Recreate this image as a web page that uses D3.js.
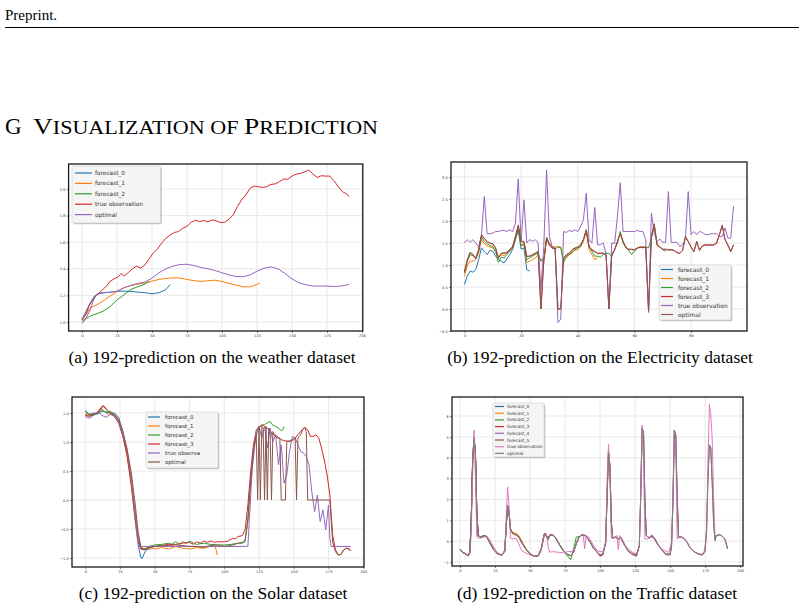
<!DOCTYPE html>
<html>
<head>
<meta charset="utf-8">
<script src="https://cdn.jsdelivr.net/npm/d3@7"></script>
<style>
  body { margin: 0; background: #fff; }
  svg { display: block; }
  .serif { font-family: "Liberation Serif", "Times New Roman", serif; fill: #000; }
</style>
</head>
<body>
<script>
// ---------- page text ----------
const captions = [
  "(a) 192-prediction on the weather dataset",
  "(b) 192-prediction on the Electricity dataset",
  "(c) 192-prediction on the Solar dataset",
  "(d) 192-prediction on the Traffic dataset"
];

// ---------- (a) weather ----------
const weatherTrueX = [0,3,5,8,10,13,15,18,20,23,26,28,30,33,36,39,42,45,48,51,54,57,60,63,66,69,72,75,78,81,84,87,90,93,96,99,102,105,108,111,114,117,120,123,126,129,132,135,138,141,144,147,150,153,156,159,162,165,168,171,174,177,180,183,186,189,191];
const weatherTrueY = [1.015,1.06,1.12,1.17,1.20,1.225,1.245,1.275,1.305,1.325,1.34,1.365,1.345,1.37,1.40,1.42,1.405,1.43,1.475,1.52,1.55,1.595,1.63,1.655,1.673,1.68,1.705,1.72,1.75,1.765,1.755,1.763,1.753,1.768,1.76,1.748,1.75,1.773,1.805,1.868,1.918,1.955,2.005,2.022,2.017,2.012,2.018,2.035,2.038,2.055,2.075,2.073,2.097,2.112,2.117,2.13,2.142,2.112,2.087,2.1,2.097,2.097,2.062,2.017,1.98,1.963,1.943];
const weatherOptX = [0,3,6,8,10,13,16,20,25,30,35,40,45,50,55,60,65,70,75,80,85,90,95,100,105,110,115,120,125,130,135,140,145,150,155,160,165,170,175,180,185,191];
const weatherOptY = [1.007,1.03,1.095,1.157,1.20,1.215,1.22,1.222,1.232,1.257,1.275,1.29,1.30,1.33,1.37,1.40,1.42,1.432,1.434,1.424,1.41,1.40,1.387,1.37,1.354,1.342,1.34,1.354,1.382,1.404,1.414,1.40,1.364,1.324,1.294,1.28,1.27,1.27,1.27,1.267,1.27,1.282];
const weatherF0X = [0,3,6,9,12,15,20,25,30,35,40,45,50,55,60,63];
const weatherF0Y = [1.02,1.082,1.145,1.195,1.215,1.22,1.224,1.23,1.232,1.23,1.224,1.22,1.212,1.22,1.244,1.282];
const weatherF1X = [0,3,6,10,15,20,25,30,35,40,45,50,55,60,65,70,75,80,85,90,95,100,105,110,115,120,125,127];
const weatherF1Y = [1.02,1.057,1.107,1.125,1.157,1.195,1.227,1.257,1.275,1.284,1.294,1.307,1.32,1.327,1.332,1.33,1.32,1.31,1.305,1.31,1.314,1.304,1.29,1.277,1.264,1.264,1.282,1.294];
const weatherF2X = [0,3,6,10,15,20,25,30,35,40,45,48];
const weatherF2Y = [0.99,1.025,1.045,1.06,1.08,1.115,1.165,1.205,1.245,1.265,1.285,1.305];

// ---------- (b) electricity (one value per step) ----------
const elecTrue = [1.50,1.575,1.515,1.575,1.50,1.41,1.65,2.555,1.71,1.71,
  1.725,1.76,1.76,1.785,1.785,1.76,1.80,1.76,1.95,2.955,
  1.537,2.48,1.50,1.575,1.537,1.575,1.50,0.445,1.42,3.157,
  1.65,1.41,1.387,-0.31,-0.23,1.76,1.74,1.785,1.76,1.80,
  1.76,1.876,2.03,2.63,1.575,1.50,2.306,1.46,1.46,1.50,
  1.25,0.0,1.50,1.485,2.10,2.87,1.76,1.76,1.76,1.76,
  1.76,1.785,1.76,1.76,1.575,-0.08,2.18,1.725,1.537,1.59,
  1.515,1.515,2.668,1.515,1.515,1.515,1.42,1.46,1.575,2.668,
  1.69,1.76,1.69,1.76,1.74,1.69,1.69,1.71,1.71,1.71,
  1.65,1.65,1.84,1.61,1.61,2.34];
const elecOpt = [0.86,1.12,1.29,1.235,1.14,1.35,1.69,1.61,1.537,1.50,
  1.485,1.387,1.16,1.27,1.27,1.29,1.35,1.42,1.65,1.91,
  1.537,1.537,1.20,1.20,1.235,1.27,1.31,0.0,1.085,1.61,
  1.46,1.387,1.387,0.0,0.0,1.16,1.235,1.27,1.35,1.387,
  1.41,1.46,1.575,1.80,1.42,1.35,1.31,1.27,1.27,1.27,
  1.235,0.0,1.235,1.35,1.537,1.725,1.537,1.41,1.36,1.36,
  1.35,1.387,1.41,1.41,1.41,-0.045,1.65,1.937,1.46,1.41,
  1.36,1.36,1.35,1.35,1.334,1.29,1.27,1.334,1.65,1.537,
  1.41,1.31,1.537,1.334,1.44,1.46,1.46,1.46,1.46,1.50,
  1.69,1.91,1.575,1.46,1.31,1.46];
const elecF0 = [0.56,0.746,0.86,0.836,0.897,1.12,1.387,1.31,1.235,1.334,
  1.31,1.20,1.12,1.085,1.047,1.14,1.235,1.35,1.575,1.80,
  1.36,1.387,0.897,0.86];
const elecF1 = [0.746,0.987,1.085,1.085,1.12,1.27,1.575,1.485,1.44,1.41,
  1.387,1.31,1.18,1.235,1.21,1.27,1.35,1.41,1.61,1.84,
  1.46,1.485,1.06,1.085,1.12,1.16,1.235,1.12,1.12,1.575,
  1.50,1.41,1.41,1.42,1.41,1.12,1.16,1.235,1.27,1.334,
  1.35,1.41,1.537,1.76,1.35,1.235,1.12,1.16];
const elecF2 = [0.82,1.085,1.235,1.21,1.16,1.31,1.635,1.537,1.485,1.44,
  1.42,1.31,1.06,1.18,1.16,1.235,1.31,1.387,1.61,1.80,
  1.44,1.46,1.12,1.16,1.20,1.235,1.27,1.085,1.12,1.635,
  1.46,1.387,1.36,1.41,1.387,1.047,1.20,1.235,1.29,1.35,
  1.387,1.42,1.575,1.80,1.41,1.31,1.20,1.20,1.18,1.235,
  1.27,1.26,1.20,1.35,1.485,1.76,1.50,1.387,1.334,1.235,
  1.31,1.387,1.41,1.387,1.41,1.387,1.61,1.876,1.46,1.41,
  1.35,1.31];
const elecF3 = [0.84,1.10,1.28,1.24,1.15,1.34,1.67,1.60,1.53,1.49,
  1.48,1.38,1.15,1.26,1.27,1.28,1.34,1.41,1.64,1.89,
  1.53,1.53,1.19,1.20,1.23,1.26,1.30,0.0,1.08,1.60,
  1.45,1.38,1.38,0.0,0.0,1.15,1.23,1.26,1.34,1.38,
  1.40,1.45,1.57,1.78,1.41,1.34,1.30,1.26,1.26,1.27,
  1.22,0.0,1.23,1.34,1.53,1.71,1.53,1.40,1.35,1.35,
  1.34,1.38,1.40,1.40,1.40,-0.045,1.64,1.92,1.45,1.40,
  1.35,1.35,1.34,1.34,1.33,1.28,1.26,1.33,1.64,1.53,
  1.40,1.30,1.53,1.33,1.43,1.45,1.45,1.45,1.45,1.49,
  1.68,1.89,1.57,1.45,1.30,1.45];

// ---------- (c) solar ----------
const solarTrueX = [0,3,6,9,12,15,18,21,24,27,30,33,36,38,39,116,117,118,120,122,123,125,127,129,131,133,135,137,139,141,143,145,147,149,151,153,155,157,159,161,163,165,167,169,171,173,175,176,177,191];
const solarTrueY = [1.44,1.41,1.46,1.53,1.46,1.425,1.48,1.44,1.356,1.125,0.866,0.377,-0.26,-0.66,-0.80,-0.80,-0.80,-0.37,0.49,0.953,1.21,1.27,1.068,1.27,0.895,1.24,1.01,1.125,0.607,0.953,0.29,0.434,0.837,1.097,1.068,0.953,0.837,0.81,0.75,0.607,0.144,-0.20,0.086,-0.37,-0.17,-0.516,-0.086,-0.66,-0.80,-0.80];
const solarOptX = [0,3,6,9,12,13,15,18,21,24,27,30,33,36,38,40,42,45,50,55,60,65,70,75,80,85,90,95,100,105,110,113,115,117,119,121,123,124,125,126,127,128,129,130,131,132,133,134,135,136,138,140,141,144,145,147,149,151,152,153,155,157,158,159,160,176,177,178,180,182,184,186,188,190,191];
const solarOptY = [1.47,1.46,1.47,1.50,1.586,1.615,1.56,1.50,1.47,1.385,1.183,0.895,0.49,-0.086,-0.545,-0.80,-0.86,-0.83,-0.80,-0.785,-0.785,-0.775,-0.785,-0.80,-0.80,-0.82,-0.785,-0.775,-0.80,-0.785,-0.745,-0.73,-0.69,-0.37,0.32,0.837,1.15,0,1.27,0,1.27,1.24,0,1.27,0,1.24,1.18,0,1.18,1.125,1.068,1.068,0,0,1.01,1.02,1.04,1.068,0,1.068,1.125,1.24,1.25,1.18,0,0,-0.37,-0.72,-0.89,-0.95,-0.94,-0.86,-0.83,-0.86,-0.875];
const solarF0X = [0,3,6,9,12,15,18,21,24,27,30,33,36,38,40,41,43,45,47];
const solarF0Y = [1.53,1.48,1.50,1.48,1.53,1.52,1.50,1.50,1.425,1.183,0.837,0.32,-0.37,-0.775,-0.995,-1.005,-0.89,-0.845,-0.845];
const solarF1X = [0,3,6,9,12,15,18,21,24,27,30,33,36,38,40,43,46,50,55,60,65,70,75,80,85,90,93,94,95];
const solarF1Y = [1.50,1.47,1.47,1.50,1.56,1.50,1.47,1.48,1.385,1.125,0.78,0.26,-0.37,-0.72,-0.845,-0.833,-0.82,-0.845,-0.82,-0.845,-0.80,-0.833,-0.845,-0.82,-0.833,-0.80,-0.785,-0.845,-0.95];
const solarF2X = [0,3,6,9,12,15,18,21,24,27,30,33,36,38,40,43,46,50,55,60,62,65,68,70,73,75,78,80,85,90,95,100,105,110,113,115,117,119,121,123,125,127,129,131,133,135,137,139,141,142,143];
const solarF2Y = [1.54,1.47,1.46,1.50,1.56,1.50,1.53,1.47,1.356,1.154,0.837,0.377,-0.257,-0.66,-0.833,-0.845,-0.80,-0.775,-0.765,-0.745,-0.765,-0.72,-0.765,-0.72,-0.745,-0.706,-0.745,-0.765,-0.745,-0.765,-0.775,-0.775,-0.765,-0.745,-0.745,-0.72,-0.315,0.377,0.837,1.125,1.24,1.287,1.30,1.33,1.356,1.287,1.27,1.24,1.195,1.21,1.264];
const solarF3X = [0,3,6,9,12,13,15,18,21,24,27,30,33,36,38,40,43,46,50,55,60,65,70,75,78,80,83,85,88,90,93,95,100,103,106,108,110,113,115,117,119,121,123,125,127,129,131,133,135,138,141,144,147,150,153,156,158,160,162,164,166,168,170,172,174,176,177,178,180,182,184,186,188,190,191];
const solarF3Y = [1.46,1.44,1.48,1.52,1.615,1.63,1.575,1.50,1.44,1.327,1.097,0.78,0.29,-0.317,-0.66,-0.845,-0.86,-0.82,-0.80,-0.785,-0.765,-0.765,-0.745,-0.73,-0.765,-0.72,-0.745,-0.706,-0.73,-0.706,-0.73,-0.72,-0.72,-0.706,-0.66,-0.67,-0.63,-0.614,-0.516,-0.086,0.49,0.953,1.183,1.25,1.30,1.27,1.24,1.18,1.137,1.10,1.04,1.02,1.01,1.04,1.125,1.21,1.25,1.21,1.097,1.097,1.125,1.068,0.895,0.69,0.434,0.086,-0.26,-0.60,-0.86,-0.94,-0.94,-0.86,-0.83,-0.845,-0.87];

// ---------- (d) traffic ----------
const trafficX = [0,2,4,6,7,8,9,10,11,12,
  13,15,17,19,21,24,27,30,32,33,
  34,35,36,37,38,40,42,44,47,50,
  53,56,58,60,61,63,64,66,68,70,
  73,76,79,81,83,85,87,89,91,93,
  95,98,100,102,104,105,106,107,108,109,
  111,113,115,117,120,123,126,128,129,130,
  131,132,133,135,137,139,141,144,147,150,
  151,152,153,154,155,156,158,160,162,164,
  167,170,173,175,176,177,178,179,180,181,
  182,183,185,187,189,191];
const trafficOpt = [-0.40,-0.53,-0.61,-0.69,-0.53,0.915,3.8,4.96,4.28,1.40,
  0.25,0.19,0.27,0.22,-0.05,-0.40,-0.61,-0.66,-0.45,0.75,
  1.72,1.40,0.59,0.43,0.35,0.30,0.19,-0.05,-0.37,-0.61,
  -0.72,-0.69,-0.37,0.27,0.30,0.08,0.27,0.30,0.19,-0.05,
  -0.37,-0.61,-0.69,-0.53,-0.13,0.19,0.30,0.27,0.145,-0.05,
  -0.29,-0.53,-0.66,-0.61,-0.05,2.2,4.28,3.64,0.915,0.145,
  0.19,0.11,0.145,-0.13,-0.45,-0.61,-0.66,-0.21,2.2,5.41,
  5.25,1.88,0.27,0.145,0.24,0.11,-0.13,-0.40,-0.61,-0.61,
  -0.21,1.88,5.33,5.09,2.2,0.19,0.19,0.11,-0.05,-0.29,
  -0.50,-0.61,-0.66,-0.45,0.59,3.0,4.6,4.45,2.84,0.915,
  0.03,0.27,0.30,0.24,0.11,-0.37];
const trafficF0 = [-0.38,-0.52,-0.60,-0.68,-0.52,0.90,3.75,4.90,4.30,1.45,
  0.26,0.20,0.26,0.22,-0.04,-0.39,-0.60,-0.66,-0.46];
const trafficF1 = [-0.39,-0.53,-0.61,-0.69,-0.53,0.92,3.8,4.95,4.25,1.42,
  0.26,0.20,0.28,0.24,-0.03,-0.38,-0.60,-0.66,-0.45,0.74,
  1.70,1.42,0.62,0.48,0.42,0.38,0.28,0.02,-0.34,-0.60,
  -0.72,-0.69,-0.38,0.26,0.32,0.10];
const trafficF2 = [-0.41,-0.54,-0.62,-0.70,-0.54,0.90,3.78,4.93,4.26,1.40,
  0.25,0.19,0.27,0.22,-0.05,-0.41,-0.62,-0.67,-0.46,0.74,
  1.70,1.40,0.58,0.42,0.35,0.30,0.19,-0.05,-0.38,-0.62,
  -0.73,-0.70,-0.38,0.30,0.34,0.10,0.28,0.30,0.19,-0.06,
  -0.40,-0.65,-0.90,-0.40,0.20,0.22,0.28,0.26,0.14,-0.06,
  -0.30];
const trafficF3 = [-0.40,-0.53,-0.62,-0.70,-0.54,0.91,3.78,4.95,4.28,1.42,
  0.25,0.19,0.27,0.22,-0.05,-0.40,-0.62,-0.67,-0.46,0.76,
  1.72,1.40,0.60,0.44,0.36,0.31,0.20,-0.05,-0.38,-0.62,
  -0.73,-0.70,-0.36,0.36,0.38,0.12,0.30,0.32,0.20,-0.05,
  -0.38,-0.62,-0.70,-0.54,-0.14,0.20,0.31,0.28,0.15,-0.05,
  -0.30,-0.55,-0.72,-0.66,-0.06,2.2,4.25,3.64,0.92,0.15,
  0.20,0.12,0.15,-0.14,-0.47,-0.64,-0.72,-0.22];
const trafficF4 = [-0.40,-0.53,-0.61,-0.69,-0.53,0.91,3.8,4.96,4.28,1.40,
  0.25,0.19,0.27,0.22,-0.05,-0.40,-0.61,-0.66,-0.45,0.75,
  1.72,1.40,0.59,0.43,0.35,0.30,0.19,-0.05,-0.37,-0.61,
  -0.72,-0.69,-0.37,0.27,0.30,0.08,0.27,0.30,0.19,-0.05,
  -0.37,-0.61,-0.69,-0.53,-0.13,0.19,0.30,0.27,0.145,-0.05,
  -0.29,-0.53,-0.66,-0.61,-0.05,2.2,4.28,3.64,0.915,0.145,
  0.19,0.11,0.145,-0.13,-0.45,-0.61,-0.66,-0.21,2.2,5.40,
  5.22,1.88,0.27,0.18,0.30,0.14,-0.13,-0.43,-0.66,-0.66,
  -0.22,1.86,5.30,5.06,2.2,0.19,0.19,0.11];
const trafficF5 = [-0.41,-0.54,-0.62,-0.70,-0.54,0.90,3.78,4.94,4.27,1.41,
  0.26,0.20,0.27,0.22,-0.05,-0.41,-0.62,-0.67,-0.46,0.74,
  1.71,1.41,0.60,0.44,0.35,0.31,0.20,-0.05,-0.38,-0.62,
  -0.73,-0.70,-0.38,0.28,0.31,0.09,0.28,0.31,0.20,-0.05,
  -0.38,-0.62,-0.70,-0.54,-0.13,0.20,0.31,0.28,0.15,-0.05,
  -0.30,-0.54,-0.67,-0.62,-0.05,2.18,4.26,3.62,0.92,0.15,
  0.20,0.12,0.15,-0.13,-0.46,-0.62,-0.67,-0.22,2.18,5.39,
  5.23,1.86,0.28,0.15,0.25,0.12,-0.13,-0.41,-0.62,-0.62,
  -0.22,1.86,5.31,5.07,2.18,0.20,0.20,0.12,-0.05,-0.30,
  -0.51,-0.62,-0.67,-0.46,0.58,2.98,4.62,4.48,2.86,0.93,
  0.04,0.28,0.31,0.25,0.12,-0.38];
const trafficTrueX = [0,3,6,7,8,9,10,11,12,13,15,17,19,21,24,27,30,32,33,34,35,36,38,40,42,44,47,50,53,56,58,60,61,62,63,64,66,70,74,77,80,82,84,86,88,89,90,92,94,96,98,100,102,104,105,106,107,108,110,112,113,114,116,118,120,123,126,128,129,130,131,132,134,136,138,140,143,146,149,151,152,153,154,155,157,159,161,163,165,168,171,174,176,177,178,179,180,181,182,184,186,188,190,191];
const trafficTrueY = [-0.37,-0.58,-0.66,-0.61,0.27,3.0,5.33,3.16,0.19,0.145,0.145,0.19,0.24,0.11,-0.29,-0.56,-0.66,-0.53,1.24,2.60,1.72,0.145,0.11,0.145,-0.13,-0.45,-0.56,-0.66,-0.72,-0.69,-0.45,0.27,0.35,0.19,-0.29,-0.53,-0.50,-0.53,-0.56,-0.50,-0.50,-0.29,0.11,0.27,0.30,-0.37,0.27,0.19,-0.05,-0.29,-0.45,-0.50,-0.50,-0.05,3.0,4.64,3.16,0.145,0.145,0.27,-0.40,0.27,0.08,-0.21,-0.37,-0.53,-0.61,-0.29,2.2,5.57,3.8,0.11,0.11,0.19,0.145,-0.05,-0.34,-0.45,-0.53,-0.05,2.2,5.33,4.6,0.11,0.19,0.19,0.08,-0.13,-0.40,-0.53,-0.61,-0.61,0.27,3.8,6.56,6.05,4.93,2.2,0.27,0.27,0.30,0.19,-0.05,-0.37];

// tick values
const ticks200 = [0,25,50,75,100,125,150,175,200];
const ticksElecX = [0,20,40,60,80];
const ticksWeatherY = [1.0,1.2,1.4,1.6,1.8,2.0];
const ticksElecY = [-0.5,0.0,0.5,1.0,1.5,2.0,2.5,3.0];
const ticksSolarY = [-1.0,-0.5,0.0,0.5,1.0,1.5];
const ticksTrafficY = [-1,0,1,2,3,4,5,6];

const C = { blue: "#1f77b4", orange: "#ff7f0e", green: "#2ca02c", red: "#d62728",
            purple: "#9467bd", brown: "#8c564b", pink: "#e377c2", gray: "#7f7f7f" };

const idx = arr => arr.map((v, i) => i);

// ---------- page ----------
const svg = d3.select("body").append("svg").attr("width", 804).attr("height", 610);
svg.append("rect").attr("width", 804).attr("height", 610).attr("fill", "#fff");

svg.append("text").attr("class", "serif").attr("x", 5).attr("y", 20)
  .attr("font-size", 15).text("Preprint.");
svg.append("line").attr("x1", 5).attr("x2", 799).attr("y1", 27.5).attr("y2", 27.5)
  .attr("stroke", "#000").attr("stroke-width", 1);

svg.append("text").attr("class", "serif").attr("x", 5).attr("y", 134)
  .attr("font-size", 23).text("G");
const head = svg.append("text").attr("class", "serif").attr("x", 33).attr("y", 134)
  .attr("font-size", 23).attr("textLength", 345).attr("lengthAdjust", "spacingAndGlyphs");
head.append("tspan").text("V");
head.append("tspan").attr("font-size", 18.5).text("ISUALIZATION OF ");
head.append("tspan").text("P");
head.append("tspan").attr("font-size", 18.5).text("REDICTION");

const capPos = [[212, 363], [600, 363], [213, 599], [597, 599]];
svg.selectAll("text.cap").data(captions).join("text")
  .attr("class", "serif cap")
  .attr("x", (d, i) => capPos[i][0]).attr("y", (d, i) => capPos[i][1])
  .attr("text-anchor", "middle").attr("font-size", 17.5)
  .text(d => d);

// ---------- one subplot ----------
function drawPanel(p) {
  const [L, T, R, B] = p.box;
  const x = d3.scaleLinear().domain(p.xDomain).range([L, R]);
  const y = d3.scaleLinear().domain(p.yDomain).range([B, T]);
  const g = svg.append("g");

  svg.append("clipPath").attr("id", "clip-" + p.id).append("rect")
    .attr("x", L).attr("y", T).attr("width", R - L).attr("height", B - T);

  // grid
  g.append("g").selectAll("line").data(p.xTicks.filter(t => x(t) <= R)).join("line")
    .attr("x1", d => x(d)).attr("x2", d => x(d)).attr("y1", T).attr("y2", B)
    .attr("stroke", "#e3e3e3").attr("stroke-width", 0.8);
  g.append("g").selectAll("line").data(p.yTicks.filter(t => y(t) >= T && y(t) <= B)).join("line")
    .attr("x1", L).attr("x2", R).attr("y1", d => y(d)).attr("y2", d => y(d))
    .attr("stroke", "#e3e3e3").attr("stroke-width", 0.8);

  // series
  const line = d3.line().x(d => x(d[0])).y(d => y(d[1]));
  g.append("g").attr("clip-path", `url(#clip-${p.id})`)
    .selectAll("path").data(p.series).join("path")
    .attr("d", s => line(d3.zip(s.xs, s.ys)))
    .attr("fill", "none").attr("stroke", s => s.color)
    .attr("stroke-width", 1).attr("stroke-linejoin", "round");

  // axes
  const ax = g.append("g").attr("transform", `translate(0,${B})`)
    .call(d3.axisBottom(x).tickValues(p.xTicks).tickSize(2).tickPadding(1.2).tickFormat(d3.format("d")));
  const ay = g.append("g").attr("transform", `translate(${L},0)`)
    .call(d3.axisLeft(y).tickValues(p.yTicks).tickSize(2).tickPadding(1.2).tickFormat(d3.format(p.yFormat)));
  [ax, ay].forEach(a => {
    a.select(".domain").remove();
    a.selectAll(".tick line").attr("stroke", "#333").attr("stroke-width", 0.6);
    a.selectAll(".tick text").attr("font-size", 3.6).attr("fill", "#333")
      .attr("font-family", "DejaVu Sans, sans-serif");
  });

  // frame
  g.append("rect").attr("x", L).attr("y", T).attr("width", R - L).attr("height", B - T)
    .attr("fill", "none").attr("stroke", "#1a1a1a").attr("stroke-width", 1.3);

  // legend
  const lg = p.legend;
  const leg = g.append("g");
  leg.append("rect").attr("x", lg.x + 1.3).attr("y", lg.y + 1.3).attr("width", lg.w).attr("height", lg.h)
    .attr("rx", 1.5).attr("fill", "#888").attr("opacity", 0.5);
  leg.append("rect").attr("x", lg.x).attr("y", lg.y).attr("width", lg.w).attr("height", lg.h)
    .attr("rx", 1.5).attr("fill", "#f5f5f5").attr("stroke", "#cfcfcf").attr("stroke-width", 0.6);
  const rows = leg.selectAll("g.row").data(p.series).join("g")
    .attr("transform", (d, i) => `translate(0,${lg.row0 + i * lg.step})`);
  rows.append("line").attr("x1", lg.hx1).attr("x2", lg.hx2)
    .attr("stroke", d => d.color).attr("stroke-width", 1.2);
  rows.append("text").attr("x", lg.tx).attr("dy", "0.35em")
    .attr("font-size", lg.fs).attr("fill", "#333")
    .attr("font-family", "DejaVu Sans, sans-serif")
    .text(d => d.label);
}

drawPanel({
  id: "a", box: [68.6, 164, 362.8, 331],
  xDomain: [-9.55, 200.55], yDomain: [0.932, 2.188],
  xTicks: ticks200, yTicks: ticksWeatherY, yFormat: ".1f",
  legend: { x: 72, y: 166, w: 88.5, h: 57, hx1: 75, hx2: 92, tx: 95, row0: 173, step: 10.4, fs: 5.8 },
  series: [
    { label: "forecast_0", color: C.blue, xs: weatherF0X, ys: weatherF0Y },
    { label: "forecast_1", color: C.orange, xs: weatherF1X, ys: weatherF1Y },
    { label: "forecast_2", color: C.green, xs: weatherF2X, ys: weatherF2Y },
    { label: "true observation", color: C.red, xs: weatherTrueX, ys: weatherTrueY },
    { label: "optimal", color: C.purple, xs: weatherOptX, ys: weatherOptY }
  ]
});

drawPanel({
  id: "b", box: [451, 162, 747, 331],
  xDomain: [-4.75, 99.75], yDomain: [-0.5, 3.34],
  xTicks: ticksElecX, yTicks: ticksElecY, yFormat: ".1f",
  legend: { x: 659, y: 265, w: 72, h: 55, hx1: 661, hx2: 673, tx: 678, row0: 269.5, step: 9, fs: 6 },
  series: [
    { label: "forecast_0", color: C.blue, xs: idx(elecF0), ys: elecF0 },
    { label: "forecast_1", color: C.orange, xs: idx(elecF1), ys: elecF1 },
    { label: "forecast_2", color: C.green, xs: idx(elecF2), ys: elecF2 },
    { label: "forecast_3", color: C.red, xs: idx(elecF3), ys: elecF3 },
    { label: "true observation", color: C.purple, xs: idx(elecTrue), ys: elecTrue },
    { label: "optimal", color: C.brown, xs: idx(elecOpt), ys: elecOpt }
  ]
});

drawPanel({
  id: "c", box: [72, 397, 364, 567],
  xDomain: [-9.55, 200.55], yDomain: [-1.155, 1.776],
  xTicks: ticks200, yTicks: ticksSolarY, yFormat: ".1f",
  legend: { x: 146, y: 412, w: 72, h: 56, hx1: 148, hx2: 160, tx: 165, row0: 417, step: 9, fs: 5.5 },
  series: [
    { label: "forecast_0", color: C.blue, xs: solarF0X, ys: solarF0Y },
    { label: "forecast_1", color: C.orange, xs: solarF1X, ys: solarF1Y },
    { label: "forecast_2", color: C.green, xs: solarF2X, ys: solarF2Y },
    { label: "forecast_3", color: C.red, xs: solarF3X, ys: solarF3Y },
    { label: "true observa", color: C.purple, xs: solarTrueX, ys: solarTrueY },
    { label: "optimal", color: C.brown, xs: solarOptX, ys: solarOptY }
  ]
});

drawPanel({
  id: "d", box: [452, 397, 743, 566],
  xDomain: [-5.7, 202], yDomain: [-1.19, 6.91],
  xTicks: ticks200, yTicks: ticksTrafficY, yFormat: "d",
  legend: { x: 493, y: 403, w: 51, h: 54, hx1: 495, hx2: 504, tx: 507, row0: 406.5, step: 6.7, fs: 4.3 },
  series: [
    { label: "forecast_0", color: C.blue, xs: trafficX.slice(0, trafficF0.length), ys: trafficF0 },
    { label: "forecast_1", color: C.orange, xs: trafficX.slice(0, trafficF1.length), ys: trafficF1 },
    { label: "forecast_2", color: C.green, xs: trafficX.slice(0, trafficF2.length), ys: trafficF2 },
    { label: "forecast_3", color: C.red, xs: trafficX.slice(0, trafficF3.length), ys: trafficF3 },
    { label: "forecast_4", color: C.purple, xs: trafficX.slice(0, trafficF4.length), ys: trafficF4 },
    { label: "forecast_5", color: C.brown, xs: trafficX.slice(0, trafficF5.length), ys: trafficF5 },
    { label: "true observation", color: C.pink, xs: trafficTrueX, ys: trafficTrueY },
    { label: "optimal", color: C.gray, xs: trafficX, ys: trafficOpt }
  ]
});
</script>
</body>
</html>
